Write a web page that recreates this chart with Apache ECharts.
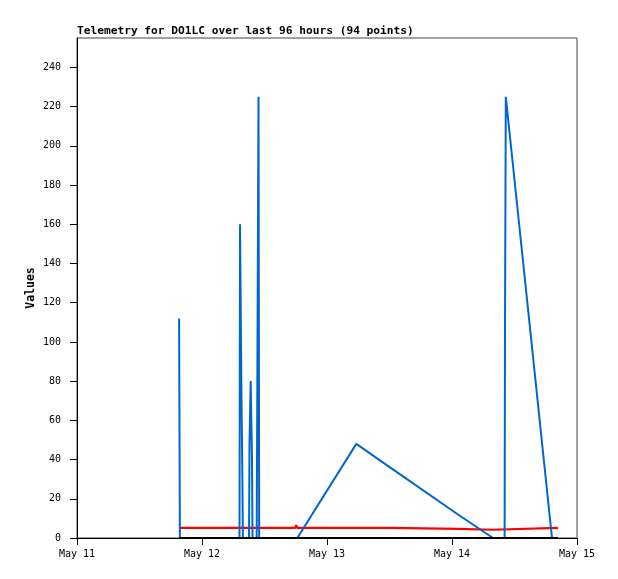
<!DOCTYPE html>
<html lang="en">
<head>
  <meta charset="UTF-8">
  <title>Telemetry DO1LC</title>
  <script src="https://cdn.jsdelivr.net/npm/echarts@6/dist/echarts.min.js"></script>
  <style>
    body { margin: 0; background: #fff; }
    #chart { width: 618px; height: 579px; }
  </style>
</head>
<body>
  <div id="chart"></div>
  <script>
    // x = hours since May 11 00:00, y = channel value
    const dayLabels = ['May 11', 'May 12', 'May 13', 'May 14', 'May 15'];
    const yTicks = [0, 20, 40, 60, 80, 100, 120, 140, 160, 180, 200, 220, 240];

    const blueSeries = [
      [19.6, 112], [19.75, 0],
      [31.2, 0], [31.3, 160], [31.55, 80], [31.75, 32], [31.85, 0],
      [33.03, 0], [33.12, 48], [33.35, 80], [33.6, 40], [33.7, 0],
      [34.5, 0], [34.6, 64], [34.85, 225], [34.98, 0],
      [42.3, 0], [53.63, 48], [60.1, 36], [73.15, 12], [79.87, 0],
      [82.1, 0], [82.18, 112], [82.33, 225], [91.2, 0], [92.35, 0]
    ];
    const redSeries = [
      [19.6, 5.2], [34.1, 5.2], [34.3, 4.2], [34.5, 5.2],
      [41.9, 5.2], [42.1, 6.5], [42.3, 5.2],
      [60.0, 5.2], [60.1, 4.7], [73.1, 4.7], [73.2, 4.2],
      [79.8, 4.2], [79.9, 5.2], [92.35, 5.2]
    ];
    const blackSeries = [[19.6, 0], [92.35, 0]];

    const mono = 'DejaVu Sans Mono, monospace';
    const chart = echarts.init(document.getElementById('chart'));

    chart.setOption({
      animation: false,
      backgroundColor: '#ffffff',
      title: {
        text: 'Telemetry for DO1LC over last 96 hours (94 points)',
        left: 77,
        top: 26,
        padding: 0,
        textStyle: { fontFamily: mono, fontSize: 11.2, fontWeight: 'bold', color: '#000' }
      },
      grid: {
        left: 77, right: 41, top: 38, bottom: 41,
        show: true, borderColor: '#444', borderWidth: 1, backgroundColor: '#fff'
      },
      xAxis: {
        type: 'value',
        min: 0, max: 96, interval: 24,
        splitLine: { show: false },
        axisLine: { lineStyle: { color: '#000', width: 1 } },
        axisTick: { length: 7, lineStyle: { color: '#000' } },
        axisLabel: {
          margin: 11,
          fontFamily: mono, fontSize: 10, color: '#000',
          formatter: v => dayLabels[Math.round(v / 24)]
        }
      },
      yAxis: {
        type: 'value',
        min: 0, max: 255,
        name: 'Values',
        nameLocation: 'middle',
        nameGap: 40,
        nameMoveOverlap: false,
        nameTextStyle: { fontFamily: mono, fontSize: 11.5, fontWeight: 'bold', color: '#000' },
        splitLine: { show: false },
        axisLine: { show: true, lineStyle: { color: '#000', width: 1 } },
        axisTick: { show: true, length: 7, customValues: yTicks, lineStyle: { color: '#000' } },
        axisLabel: {
          margin: 16,
          customValues: yTicks,
          fontFamily: mono, fontSize: 10, color: '#000'
        }
      },
      series: [
        {
          type: 'line', data: redSeries, z: 1, showSymbol: false,
          lineStyle: { color: '#ff0000', width: 2.2 }
        },
        {
          type: 'line', data: blueSeries, z: 2, showSymbol: false,
          lineStyle: { color: '#0066cc', width: 2 }
        },
        {
          type: 'line', data: blackSeries, z: 3, showSymbol: false,
          lineStyle: { color: '#000000', width: 2 }
        }
      ]
    });
  </script>
</body>
</html>
